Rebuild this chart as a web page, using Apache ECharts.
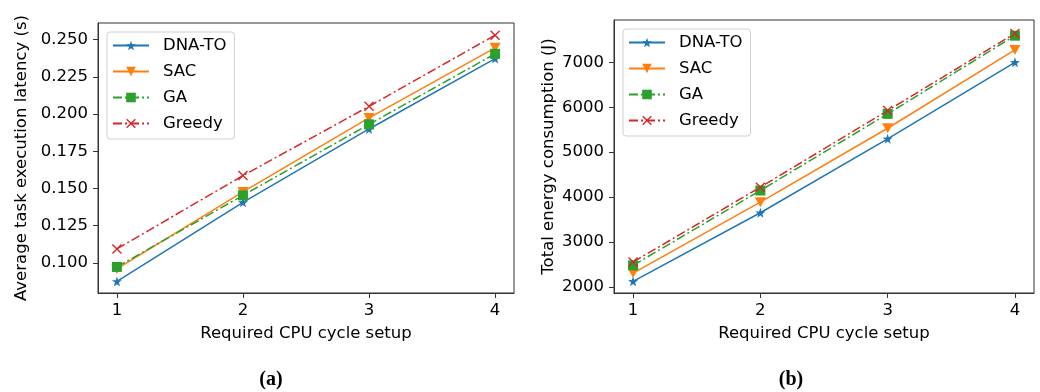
<!DOCTYPE html>
<html>
<head>
<meta charset="utf-8">
<script src="https://cdn.jsdelivr.net/npm/echarts@6/dist/echarts.min.js"></script>
<style>
html,body{margin:0;padding:0;background:#fff;}
#main{width:1040px;height:392px;}
</style>
</head>
<body>
<div id="main"></div>
<script>
// ---- data ----
const xValues = [1, 2, 3, 4];
const seriesNames = ['DNA-TO', 'SAC', 'GA', 'Greedy'];
const latencyDNATO = [0.0876, 0.1407, 0.1900, 0.2373];
const latencySAC = [0.0960, 0.1477, 0.1974, 0.2445];
const latencyGA = [0.0973, 0.1454, 0.1931, 0.2405];
const latencyGreedy = [0.1094, 0.1587, 0.2052, 0.2530];
const energyDNATO = [2127, 3653, 5298, 7000];
const energySAC = [2311, 3889, 5533, 7275];
const energyGA = [2482, 4148, 5853, 7593];
const energyGreedy = [2556, 4222, 5926, 7644];
const xTicks = [1, 2, 3, 4];
const latencyTicks = [0.100, 0.125, 0.150, 0.175, 0.200, 0.225, 0.250];
const energyTicks = [2000, 3000, 4000, 5000, 6000, 7000];
const xAxisName = 'Required CPU cycle setup';
const latencyAxisName = 'Average task execution latency (s)';
const energyAxisName = 'Total energy consumption (J)';
const captions = ['(a)', '(b)'];

// ---- styles ----
const FONT = 'DejaVu Sans';
const FS = 16.5;
const colors = ['#1f77b4', '#ff7f0e', '#2ca02c', '#d62728'];
const starPath = 'path://M0,-10L2.35,-3.24L9.51,-3.09L3.8,1.24L5.88,8.09L0,4L-5.88,8.09L-3.8,1.24L-9.51,-3.09L-2.35,-3.24Z';
const xPath = 'path://M0,1L1,0L5,4L9,0L10,1L6,5L10,9L9,10L5,6L1,10L0,9L4,5Z';
const dashDot = [9, 3, 2, 3];
const styles = [
  {symbol: starPath, symbolSize: 10, rotate: 0, type: 'solid'},
  {symbol: 'triangle', symbolSize: [11, 10], rotate: 180, type: 'solid'},
  {symbol: 'rect', symbolSize: 10, rotate: 0, type: dashDot},
  {symbol: xPath, symbolSize: 10, rotate: 0, type: dashDot}
];

function pairs(arr) { return xValues.map((x, i) => [x, arr[i]]); }

const latencyData = [latencyDNATO, latencySAC, latencyGA, latencyGreedy];
const energyData = [energyDNATO, energySAC, energyGA, energyGreedy];

function makeSeries(dataSets, gi) {
  return dataSets.map((d, i) => ({
    name: seriesNames[i],
    type: 'line',
    xAxisIndex: gi, yAxisIndex: gi,
    data: pairs(d),
    symbol: styles[i].symbol,
    symbolSize: styles[i].symbolSize,
    symbolRotate: styles[i].rotate,
    showAllSymbol: true,
    animation: false,
    color: colors[i],
    lineStyle: {color: colors[i], width: 1.5, type: styles[i].type},
    itemStyle: {color: colors[i]}
  }));
}

function xAxis(gi) {
  return {
    type: 'value', gridIndex: gi, min: 0.85, max: 4.15,
    name: xAxisName, nameLocation: 'middle', nameGap: 32,
    nameTextStyle: {fontFamily: FONT, fontSize: FS, color: '#000'},
    axisLine: {show: true, onZero: false, lineStyle: {color: '#333', width: 1}},
    axisTick: {show: true, length: 5, customValues: xTicks, lineStyle: {color: '#333'}},
    axisLabel: {show: true, customValues: xTicks, margin: 9, fontFamily: FONT, fontSize: FS, color: '#000'},
    splitLine: {show: false}
  };
}

function yAxis(gi, min, max, ticks, name, gap, fmt) {
  return {
    type: 'value', gridIndex: gi, min: min, max: max,
    name: name, nameLocation: 'middle', nameGap: gap,
    nameTextStyle: {fontFamily: FONT, fontSize: FS, color: '#000'},
    axisLine: {show: true, onZero: false, lineStyle: {color: '#333', width: 1}},
    axisTick: {show: true, length: 5, customValues: ticks, lineStyle: {color: '#333'}},
    axisLabel: {show: true, customValues: ticks, margin: 10, fontFamily: FONT, fontSize: FS, color: '#000', formatter: fmt},
    splitLine: {show: false}
  };
}

function legend(left, top) {
  return {
    orient: 'vertical', left: left, top: top,
    data: seriesNames,
    itemWidth: 36, itemHeight: 12, itemGap: 7,
    padding: [4, 8, 6, 5],
    borderColor: '#d0d0d0', borderWidth: 1, borderRadius: 3,
    backgroundColor: 'rgba(255,255,255,0.8)',
    textStyle: {fontFamily: FONT, fontSize: FS, color: '#000', lineHeight: 19, padding: [0, 0, 0, 9]},
    selectedMode: false
  };
}

const chart = echarts.init(document.getElementById('main'), null, {renderer: 'canvas'});
chart.setOption({
  backgroundColor: '#fff',
  animation: false,
  grid: [
    {left: 98, top: 23, width: 416, height: 270, show: true, borderColor: '#333', borderWidth: 1, containLabel: false},
    {left: 614, top: 20, width: 420, height: 273, show: true, borderColor: '#333', borderWidth: 1, containLabel: false}
  ],
  xAxis: [xAxis(0), xAxis(1)],
  yAxis: [
    yAxis(0, 0.0798, 0.2612, latencyTicks, latencyAxisName, 68, v => v.toFixed(3)),
    yAxis(1, 1867, 7942, energyTicks, energyAxisName, 57, v => String(v))
  ],
  legend: [legend(107, 32), legend(623, 29)],
  title: [
    {text: captions[0], left: 266, top: 365, textAlign: 'center',
     textStyle: {fontFamily: 'Liberation Serif', fontWeight: 'bold', fontSize: 20, color: '#000'}},
    {text: captions[1], left: 786, top: 365, textAlign: 'center',
     textStyle: {fontFamily: 'Liberation Serif', fontWeight: 'bold', fontSize: 20, color: '#000'}}
  ],
  series: makeSeries(latencyData, 0).concat(makeSeries(energyData, 1))
});
</script>
</body>
</html>
